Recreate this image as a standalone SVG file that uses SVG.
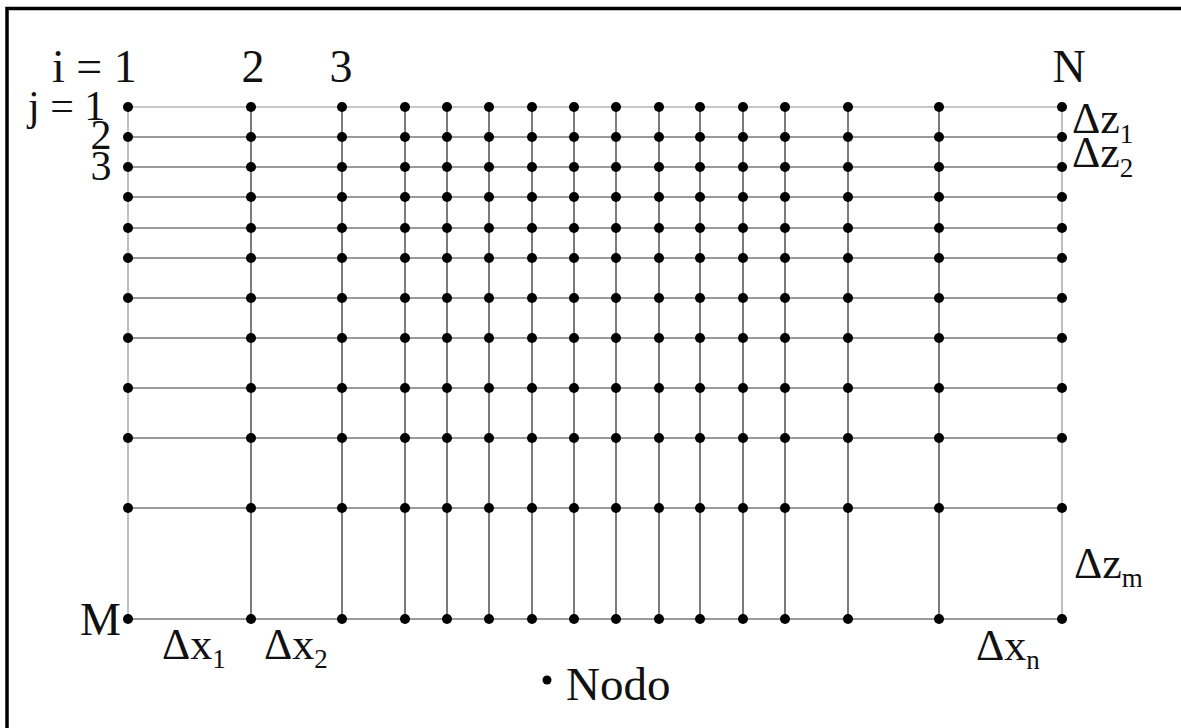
<svg xmlns="http://www.w3.org/2000/svg" xmlns:xlink="http://www.w3.org/1999/xlink" width="1181" height="728" viewBox="0 0 1181 728">
<style>
text{font-family:"Liberation Serif","DejaVu Serif","Times New Roman",serif;fill:#111}
.lab{font-size:46px}
.jl{font-size:42px}
.dl{font-size:44px}
.sub{font-size:27px}
.h{stroke:#9a9a9a;stroke-width:2;fill:none}
.hl{stroke:#c8c8c8;stroke-width:2;fill:none}
.v{stroke:#7a7a7a;stroke-width:2;fill:none}
.vl{stroke:#c0c0c0;stroke-width:2;fill:none}
.d{fill:#000}
</style>
<defs>
<g id="dotrow">
<circle class="d" cx="128" cy="0" r="5"/><circle class="d" cx="251" cy="0" r="5"/><circle class="d" cx="342" cy="0" r="5"/><circle class="d" cx="405" cy="0" r="5"/><circle class="d" cx="447" cy="0" r="5"/><circle class="d" cx="489" cy="0" r="5"/><circle class="d" cx="532" cy="0" r="5"/><circle class="d" cx="574" cy="0" r="5"/><circle class="d" cx="616" cy="0" r="5"/><circle class="d" cx="659" cy="0" r="5"/><circle class="d" cx="700" cy="0" r="5"/><circle class="d" cx="743" cy="0" r="5"/><circle class="d" cx="785" cy="0" r="5"/><circle class="d" cx="848" cy="0" r="5"/><circle class="d" cx="939" cy="0" r="5"/><circle class="d" cx="1062" cy="0" r="5"/>
</g>
</defs>
<rect width="1181" height="728" fill="#fff"/>
<rect id="frame" x="7" y="8.5" width="1250" height="800" fill="none" stroke="#000" stroke-width="3.5"/>
<g id="connectors">
<path class="hl" d="M128 107H1062"/>
<path class="h" d="M128 137H1062M128 167H1062M128 197H1062M128 228H1062M128 258H1062M128 298H1062M128 338H1062M128 388H1062M128 438H1062M128 508H1062M128 619H1062"/>
<path class="vl" d="M128 107V619M1062 107V619"/>
<path class="v" d="M251 107V619M342 107V619M405 107V619M447 107V619M489 107V619M532 107V619M574 107V619M616 107V619M659 107V619M700 107V619M743 107V619M785 107V619M848 107V619M939 107V619"/>
</g>
<g id="nodes">
<use id="row1" xlink:href="#dotrow" href="#dotrow" y="107"/>
<use id="row2" xlink:href="#dotrow" href="#dotrow" y="137"/>
<use id="row3" xlink:href="#dotrow" href="#dotrow" y="167"/>
<use id="row4" xlink:href="#dotrow" href="#dotrow" y="197"/>
<use id="row5" xlink:href="#dotrow" href="#dotrow" y="228"/>
<use id="row6" xlink:href="#dotrow" href="#dotrow" y="258"/>
<use id="row7" xlink:href="#dotrow" href="#dotrow" y="298"/>
<use id="row8" xlink:href="#dotrow" href="#dotrow" y="338"/>
<use id="row9" xlink:href="#dotrow" href="#dotrow" y="388"/>
<use id="row10" xlink:href="#dotrow" href="#dotrow" y="438"/>
<use id="row11" xlink:href="#dotrow" href="#dotrow" y="508"/>
<use id="row12" xlink:href="#dotrow" href="#dotrow" y="619"/>
</g>
<g id="labels">
<text class="lab" x="52" y="82">i = 1</text>
<text class="lab" x="253" y="82" text-anchor="middle">2</text>
<text class="lab" x="341" y="82" text-anchor="middle">3</text>
<text class="lab" x="1069" y="82" text-anchor="middle">N</text>
<text class="jl" x="28" y="120">j = 1</text>
<text class="jl" x="101" y="149" text-anchor="middle">2</text>
<text class="jl" x="101" y="180" text-anchor="middle">3</text>
<text class="lab" x="80" y="635">M</text>
<text class="dl" x="1072" y="133">Δz<tspan class="sub" dy="10">1</tspan></text>
<text class="dl" x="1072" y="167">Δz<tspan class="sub" dy="10">2</tspan></text>
<text class="dl" x="1074" y="578">Δz<tspan class="sub" dy="9">m</tspan></text>
<text class="dl" x="162" y="659">Δx<tspan class="sub" dy="9">1</tspan></text>
<text class="dl" x="264" y="659">Δx<tspan class="sub" dy="9">2</tspan></text>
<text class="dl" x="976" y="660">Δx<tspan class="sub" dy="9">n</tspan></text>
</g>
<g id="legend">
<circle class="d" cx="547" cy="680" r="4.5"/>
<text x="566" y="700" style="font-size:47px">Nodo</text>
</g>
</svg>
